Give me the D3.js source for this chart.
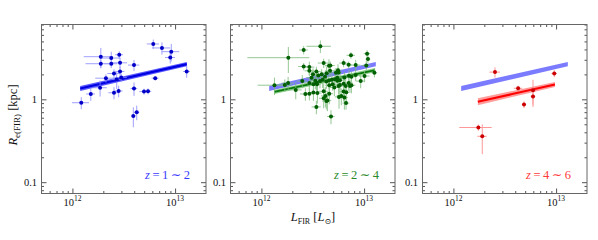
<!DOCTYPE html>
<html><head><meta charset="utf-8">
<script src="https://cdn.jsdelivr.net/npm/d3@7"></script>
<style>
body{margin:0;background:#fff}
svg{display:block}
text{font-family:"Liberation Serif","DejaVu Serif",serif;fill:#111}
</style>
</head><body>
<svg id="c" width="598" height="240"></svg>
<script>
// ---------- DATA (L_FIR in units of 1e12 Lsun, R in kpc, symmetric linear errors) ----------
// z = 1~2 (blue)
const L1  = [1.22,1.51,1.86,1.89,1.89,2.39,2.39,2.86,2.91,2.91,2.54,2.12,2.70,2.99,3.98,2.54,2.82,3.98,4.98,5.45,3.92,4.23,6.13,7.45,9.18,8.97,6.41,12.97];
const R1  = [0.91,1.16,1.38,3.27,2.69,3.15,2.69,3.45,2.76,2.17,2.05,1.80,1.73,1.83,2.59,1.20,1.26,1.35,1.24,1.25,0.63,0.70,4.66,4.17,3.76,3.20,1.80,2.17];
const L1e = [0.23,0.15,0.30,0.60,0.55,0.55,0.35,0.25,0.50,0.30,0.35,0.45,0.30,0.40,0.50,0.30,0.25,0.30,0.50,0.40,0.20,0.25,0.83,1.50,1.80,1.00,0.50,1.00];
const R1e = [0.15,0.20,0.30,0.90,0.30,0.60,0.30,0.35,0.40,0.30,0.25,0.20,0.40,0.20,0.40,0.20,0.20,0.25,0.10,0.10,0.17,0.14,0.60,0.70,0.90,0.50,0.10,0.35];
// z = 2~4 (green)
const L2  = [3.75,2.58,1.83,7.45,10.7,10.9,2.58,2.93,2.93,4.04,4.55,4.69,6.32,7.08,8.28,3.43,3.18,3.58,3.86,4.32,4.66,5.32,5.57,5.65,5.48,5.82,5.48,6.43,7.13,7.52,10.1,10.5,12.6,8.28,9.27,3.08,3.35,3.45,3.21,3.48,3.72,3.95,4.16,4.29,4.55,4.86,5.21,4.58,4.94,5.13,5.65,5.82,6.32,6.62,7.08,7.29,7.52,2.50,2.93,1.34,1.69,1.82,2.16,2.68,2.93,3.21,3.51,4.04,4.20,4.39,4.58,5.70,6.00,6.32,6.71,6.43,6.67,3.43,4.76,4.04,4.29];
const R2  = [4.37,3.94,3.18,3.40,3.56,3.06,2.49,2.45,2.21,2.74,2.54,2.56,2.74,2.61,2.59,2.17,2.01,1.94,2.01,2.07,2.21,2.09,2.25,2.11,1.82,1.70,1.67,1.83,1.92,1.87,1.91,2.56,2.09,1.96,1.66,1.82,1.67,1.58,1.52,1.52,1.66,1.72,1.87,1.64,1.69,1.72,1.75,1.48,1.52,1.39,1.45,1.49,1.54,1.45,1.57,1.45,1.48,1.66,1.57,1.48,1.49,1.57,1.30,1.16,1.17,1.21,1.19,1.25,1.10,0.97,1.17,1.07,1.10,1.24,1.22,1.05,0.90,0.81,0.62,1.03,0.955];
const L2e = [1.0,0.25,1.1,0.7,0.8,0.6,0.3,0.35,0.3,0.5,0.4,0.5,0.6,0.5,0.9,0.35,0.3,0.4,0.4,0.5,0.5,0.6,0.5,0.4,0.5,0.6,0.4,0.7,0.6,0.8,1.2,1.0,0.8,0.9,1.0,0.35,0.4,0.3,0.4,0.3,0.4,0.5,0.4,0.5,0.4,0.5,0.6,0.4,0.5,0.5,0.5,0.6,0.6,0.5,0.7,0.6,0.7,0.3,0.35,0.42,0.3,0.25,0.3,0.3,0.3,0.3,0.35,0.4,0.4,0.4,0.4,0.5,0.6,0.6,0.5,0.5,0.5,0.35,0.4,0.4,0.4];
const R2e = [0.75,0.45,1.1,0.3,0.35,0.3,0.25,0.4,0.3,0.35,0.5,0.3,0.3,0.25,0.4,0.3,0.35,0.25,0.3,0.4,0.35,0.3,0.4,0.3,0.35,0.4,0.3,0.3,0.35,0.3,0.3,0.35,0.25,0.3,0.3,0.3,0.35,0.3,0.3,0.25,0.3,0.35,0.3,0.3,0.35,0.3,0.3,0.3,0.25,0.3,0.3,0.35,0.3,0.3,0.3,0.25,0.3,0.3,0.3,0.35,0.25,0.3,0.3,0.2,0.2,0.25,0.3,0.3,0.3,0.25,0.3,0.3,0.25,0.3,0.3,0.3,0.15,0.15,0.12,0.25,0.2];
// z = 4~6 (red)
const L3  = [2.54,9.60,4.27,5.96,5.96,4.87,1.75,1.91];
const R3  = [2.13,2.05,1.36,1.29,1.08,0.865,0.457,0.358];
const L3e = [0.30,0.60,0.40,0.30,0.30,0.20,0.61,0.20];
const R3e = [0.30,0.20,0.10,0.43,0.27,0.08,0.04,0.14];
// fitted relations (end points, with band limits)
const blueFitL = [1.19, 13.0], blueFitR = [1.35, 2.66], blueFitLo = [1.26, 2.51], blueFitHi = [1.45, 2.82];
const greenFitL = [1.33, 12.8], greenFitR = [1.23, 2.25], greenFitLo = [1.16, 2.12], greenFitHi = [1.30, 2.38];
const redFitL = [1.73, 9.75], redFitR = [0.933, 1.51], redFitLo = [0.85, 1.41], redFitHi = [1.03, 1.62];
// axes
const xMajor = [1, 10], xMinor = [0.6,0.7,0.8,0.9,2,3,4,5,6,7,8,9];
const yMajor = [0.1, 1], yMinor = [0.08,0.09,0.2,0.3,0.4,0.5,0.6,0.7,0.8,0.9,2,3,4,5,6,7,8];
const xTickLabels = ["12","13"];
const yTickLabels = ["0.1","1"];
const panelLabels = [["1","2"],["2","4"],["4","6"]];

// ---------- DRAW ----------
const svg = d3.select("#c");
const panelX = [41.5, 230.5, 422.5];
const pw = 164.5, topY = 24.5, botY = 193.5;

const panels = [
  {L:L1,R:R1,Le:L1e,Re:R1e,pt:"#0000c8",err:"#8a8aff",lab:"#3a3aff",
   fits:[{L:blueFitL,R:blueFitR,lo:blueFitLo,hi:blueFitHi,band:"#5858ff",line:"#0000e0",lw:2.2}]},
  {L:L2,R:R2,Le:L2e,Re:R2e,pt:"#005f00",err:"#7cbc7c",lab:"#2a8a2a",
   fits:[{L:blueFitL,R:blueFitR,lo:blueFitLo,hi:blueFitHi,band:"#7b7bff",line:null},
         {L:greenFitL,R:greenFitR,lo:greenFitLo,hi:greenFitHi,band:"#8fcf8f",line:"#0a780a",lw:2}]},
  {L:L3,R:R3,Le:L3e,Re:R3e,pt:"#cc0000",err:"#ff8080",lab:"#ff3a3a",
   fits:[{L:blueFitL,R:blueFitR,lo:blueFitLo,hi:blueFitHi,band:"#7b7bff",line:null},
         {L:redFitL,R:redFitR,lo:redFitLo,hi:redFitHi,band:"#ff9c9c",line:"#ff0000",lw:2}]}
];

panels.forEach((p, i) => {
  const x0 = panelX[i];
  const x = d3.scaleLog().domain([0.5, 20]).range([x0, x0 + pw]);
  const y = d3.scaleLog().domain([0.073, 8]).range([botY, topY]);
  const g = svg.append("g");
  const clip = "clip" + i;
  svg.append("clipPath").attr("id", clip).append("rect")
     .attr("x", x0).attr("y", topY).attr("width", pw).attr("height", botY - topY);
  const pg = g.append("g").attr("clip-path", `url(#${clip})`);

  // fits
  p.fits.forEach(f => {
    const poly = [[f.L[0], f.lo[0]], [f.L[1], f.lo[1]], [f.L[1], f.hi[1]], [f.L[0], f.hi[0]]];
    pg.append("path")
      .attr("d", d3.line().x(d => x(d[0])).y(d => y(d[1]))(poly) + "Z")
      .attr("fill", f.band);
    if (f.line) {
      pg.append("path")
        .attr("d", d3.line().x(d => x(d[0])).y(d => y(d[1]))([[f.L[0], f.R[0]], [f.L[1], f.R[1]]]))
        .attr("stroke", f.line).attr("stroke-width", f.lw).attr("fill", "none");
    }
  });

  // error bars
  const idx = d3.range(p.L.length);
  const eb = pg.append("g").attr("stroke", p.err).attr("stroke-width", 1).attr("opacity", 0.8);
  eb.selectAll("line.h").data(idx).join("line").attr("class", "h")
    .attr("x1", d => x(Math.max(p.L[d] - p.Le[d], 0.3))).attr("x2", d => x(p.L[d] + p.Le[d]))
    .attr("y1", d => y(p.R[d])).attr("y2", d => y(p.R[d]));
  eb.selectAll("line.v").data(idx).join("line").attr("class", "v")
    .attr("x1", d => x(p.L[d])).attr("x2", d => x(p.L[d]))
    .attr("y1", d => y(Math.max(p.R[d] - p.Re[d], 0.05))).attr("y2", d => y(p.R[d] + p.Re[d]));

  // points
  pg.append("g").selectAll("circle").data(idx).join("circle")
    .attr("cx", d => x(p.L[d])).attr("cy", d => y(p.R[d])).attr("r", 2)
    .attr("fill", p.pt);

  // ticks on four sides via d3 axes
  const tickStyle = sel => { sel.select(".domain").remove(); sel.selectAll("line").attr("stroke", "#555"); sel.selectAll("text").remove(); };
  [[d3.axisBottom, botY], [d3.axisTop, topY]].forEach(([ax, yy]) => {
    g.append("g").attr("transform", `translate(0,${yy})`)
      .call(ax(x).tickValues(xMajor).tickSize(-5)).call(tickStyle);
    g.append("g").attr("transform", `translate(0,${yy})`)
      .call(ax(x).tickValues(xMinor).tickSize(-2.5)).call(tickStyle);
  });
  [[d3.axisLeft, x0], [d3.axisRight, x0 + pw]].forEach(([ax, xx]) => {
    g.append("g").attr("transform", `translate(${xx},0)`)
      .call(ax(y).tickValues(yMajor).tickSize(-5)).call(tickStyle);
    g.append("g").attr("transform", `translate(${xx},0)`)
      .call(ax(y).tickValues(yMinor).tickSize(-2.5)).call(tickStyle);
  });

  // frame
  g.append("rect").attr("x", x0).attr("y", topY).attr("width", pw).attr("height", botY - topY)
    .attr("fill", "none").attr("stroke", "#666").attr("stroke-width", 1);

  // x tick labels
  xMajor.forEach((v, k) => {
    const t = g.append("text").attr("x", x(v)).attr("y", botY + 12.5)
      .attr("text-anchor", "middle").attr("font-size", 10.5);
    t.append("tspan").text("10");
    t.append("tspan").attr("font-size", 7.5).attr("dy", -5).text(xTickLabels[k]);
  });
  // y tick labels
  yMajor.forEach((v, k) => {
    g.append("text").attr("x", x0 - 4.5).attr("y", y(v) + 3.6)
      .attr("text-anchor", "end").attr("font-size", 10.5).text(yTickLabels[k]);
  });

  // redshift label
  const lt = g.append("text").attr("x", x0 + pw - 16).attr("y", 179)
    .attr("text-anchor", "end").attr("font-size", 12.5).style("fill", p.lab);
  lt.append("tspan").attr("font-style", "italic").text("z");
  lt.append("tspan").text("\u2009=\u2009" + panelLabels[i][0] + "\u2009∼\u2009" + panelLabels[i][1]);
});

// y axis label
const yl = svg.append("text").attr("transform", "translate(17,115) rotate(-90)")
  .attr("text-anchor", "middle").attr("font-size", 12.5);
yl.append("tspan").attr("font-style", "italic").text("R");
yl.append("tspan").attr("font-size", 9).attr("dy", 3).text("e(FIR)");
yl.append("tspan").attr("dy", -3).text(" [kpc]");

// x axis label
const xl = svg.append("text").attr("x", 313).attr("y", 221)
  .attr("text-anchor", "middle").attr("font-size", 12.5);
xl.append("tspan").attr("font-style", "italic").text("L");
xl.append("tspan").attr("font-size", 8).attr("dy", 3).text("FIR");
xl.append("tspan").attr("dy", -3).text(" [");
xl.append("tspan").attr("font-style", "italic").text("L");
xl.append("tspan").attr("font-size", 8).attr("dy", 3).text("⊙");
xl.append("tspan").attr("dy", -3).text("]");
</script>
</body></html>
